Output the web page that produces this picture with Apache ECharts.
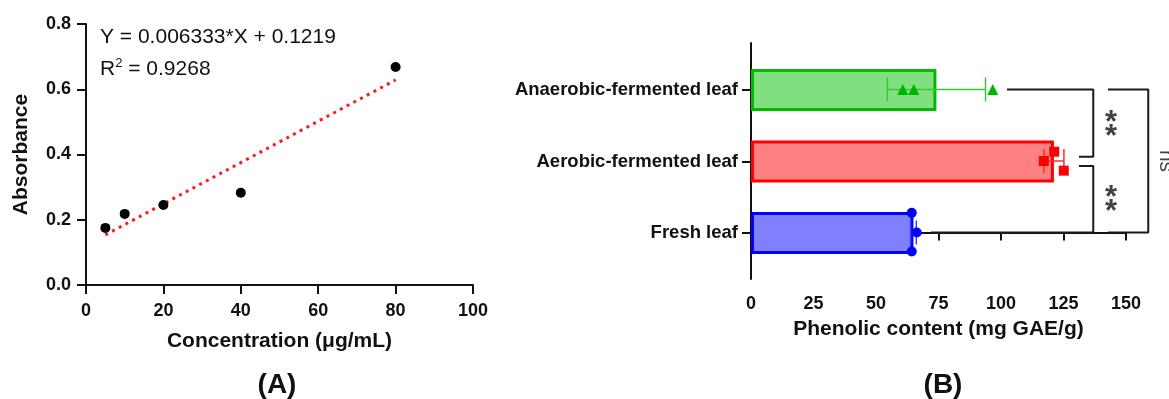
<!DOCTYPE html>
<html>
<head>
<meta charset="utf-8">
<script src="https://cdn.jsdelivr.net/npm/echarts@6/dist/echarts.min.js"></script>
<style>
html,body{margin:0;padding:0;background:#fff;}
#chart{width:1169px;height:399px;}
</style>
</head>
<body>
<div id="chart"></div>
<script>
// ---------- DATA ----------
// Panel A: standard curve
const concentration = [5, 10, 20, 40, 80];
const absorbance = [0.175, 0.218, 0.245, 0.283, 0.668];
const fitSlope = 0.006333;
const fitIntercept = 0.1219;
const fitR2 = 0.9268;
const xTicksA = [0, 20, 40, 60, 80, 100];
const yTicksA = [0, 0.2, 0.4, 0.6, 0.8];

// Panel B: phenolic content (replicates)
const categories = ['Fresh leaf', 'Aerobic-fermented leaf', 'Anaerobic-fermented leaf'];
const freshLeaf = [64.3, 66.3, 64.3];
const aerobicLeaf = [121.3, 117.1, 125.1];
const anaerobicLeaf = [60.7, 65.1, 96.7];
const xTicksB = [0, 25, 50, 75, 100, 125, 150];
const comparisons = [
  { a: 2, b: 1, label: '**' },
  { a: 1, b: 0, label: '**' },
  { a: 2, b: 0, label: 'ns' }
];

// ---------- STYLE / LAYOUT ----------
const FONT = 'Liberation Sans, Arial, Helvetica, sans-serif';
const TXT = '#111';
const groups = [freshLeaf, aerobicLeaf, anaerobicLeaf];
const fills = ['#8080ff', '#ff8080', '#80e080'];
const borders = ['#0000ff', '#ff0000', '#00bb00'];
const errColors = ['#3b3bff', '#ff2b2b', '#33cc33'];
const markerColors = ['#0000ff', '#ff0000', '#00b400'];
const markerShapes = ['circle', 'rect', 'triangle'];
const markerSizes = [10, 10, 11];
const jitter = [[0.275, 0, -0.265], [0.13, 0, -0.135], [0, 0, 0]];

const mean = a => a.reduce((s, v) => s + v, 0) / a.length;
const sd = a => { const m = mean(a); return Math.sqrt(a.reduce((s, v) => s + (v - m) * (v - m), 0) / (a.length - 1)); };

const barData = groups.map((g, i) => ({
  value: mean(g),
  itemStyle: { color: fills[i], borderColor: borders[i], borderWidth: 3 }
}));
const errData = groups.map((g, i) => [i, mean(g) - sd(g), mean(g) + sd(g)]);

const pointSeries = groups.map((g, i) => ({
  type: 'scatter', xAxisIndex: 2, yAxisIndex: 2, z: 5,
  symbol: markerShapes[i], symbolSize: markerSizes[i],
  itemStyle: { color: markerColors[i], opacity: 1 },
  data: g.map((v, k) => [v, i + jitter[i][k]])
}));

// significance brackets (data-space geometry; drawn on an annotation grid
// that shares panel B's scale but extends past the 150 tick)
const gap = 5.7;
const maxOf = i => Math.max(...groups[i]);
const br1 = [[maxOf(2) + gap, 2], [136.9, 2], [136.9, 1.06], [131.2, 1.06]];
const br2 = [[131.2, 0.93], [136.9, 0.93], [136.9, 0], [maxOf(0) + gap, 0]];
const br3 = [[142.8, 2], [158.9, 2], [158.9, 0], [142.8, 0]];
const brackets = [br1, br2, br3];
const sigLabelPos = [[144, 1.52], [144, 0.47], [166, 1.0]];

const bracketSeries = brackets.map(b => ({
  type: 'line', xAxisIndex: 3, yAxisIndex: 3, clip: false, symbol: 'none', z: 4,
  lineStyle: { color: '#1a1a1a', width: 2 }, data: b, silent: true
}));
const sigSeries = comparisons.map((c, i) => ({
  type: 'scatter', xAxisIndex: 3, yAxisIndex: 3, clip: false, symbolSize: 0, z: 6,
  data: [sigLabelPos[i]],
  label: c.label === 'ns'
    ? { show: true, position: 'inside', formatter: c.label, rotate: -90, fontSize: 21, fontFamily: FONT, color: TXT }
    : { show: true, position: 'inside', formatter: '*\n*', lineHeight: 14, fontSize: 31, fontWeight: 'bold', fontFamily: FONT, color: TXT, offset: [0, 7] }
}));

const axisLineStyle = { color: '#111', width: 2 };

const option = {
  animation: false,
  backgroundColor: '#fff',
  grid: [
    { left: 86, top: 24, width: 387, height: 261, outerBoundsMode: 'none' },
    { left: 751, top: 54.25, width: 375, height: 214.5, outerBoundsMode: 'none' },
    { left: 751, top: 43, width: 375, height: 236, outerBoundsMode: 'none' },
    { left: 751, top: 43, width: 415, height: 236, outerBoundsMode: 'none' }
  ],
  xAxis: [
    {
      gridIndex: 0, type: 'value', min: 0, max: 100, interval: 20,
      axisLine: { show: true, lineStyle: axisLineStyle },
      axisTick: { show: true, length: 9, lineStyle: { width: 2, color: '#111' } },
      axisLabel: { fontSize: 18, fontWeight: 'bold', color: TXT, fontFamily: FONT, margin: 17 },
      splitLine: { show: false },
      name: 'Concentration (μg/mL)', nameLocation: 'middle', nameGap: 46,
      nameTextStyle: { fontSize: 21, fontWeight: 'bold', color: TXT, fontFamily: FONT }
    },
    { gridIndex: 1, type: 'value', min: 0, max: 150, show: false },
    {
      gridIndex: 2, type: 'value', min: 0, max: 150, interval: 25,
      axisLine: { show: true, lineStyle: axisLineStyle },
      axisTick: { show: true, length: 8, lineStyle: { width: 2, color: '#111' } },
      axisLabel: { fontSize: 18, fontWeight: 'bold', color: TXT, fontFamily: FONT, margin: 16 },
      splitLine: { show: false },
      name: 'Phenolic content (mg GAE/g)', nameLocation: 'middle', nameGap: 40,
      nameTextStyle: { fontSize: 21, fontWeight: 'bold', color: TXT, fontFamily: FONT }
    },
    { gridIndex: 3, type: 'value', min: 0, max: 166, show: false }
  ],
  yAxis: [
    {
      gridIndex: 0, type: 'value', min: 0, max: 0.8, interval: 0.2,
      axisLine: { show: true, lineStyle: axisLineStyle },
      axisTick: { show: true, length: 9, lineStyle: { width: 2, color: '#111' } },
      axisLabel: { fontSize: 18, fontWeight: 'bold', color: TXT, fontFamily: FONT, margin: 15, formatter: v => v.toFixed(1) },
      splitLine: { show: false },
      name: 'Absorbance', nameLocation: 'middle', nameGap: 54,
      nameTextStyle: { fontSize: 21, fontWeight: 'bold', color: TXT, fontFamily: FONT }
    },
    {
      gridIndex: 1, type: 'category', data: categories,
      axisLine: { show: false },
      axisTick: { show: true, alignWithLabel: true, length: 9, lineStyle: { width: 2, color: '#111' } },
      axisLabel: { fontSize: 18.5, fontWeight: 'bold', color: TXT, fontFamily: FONT, margin: 13 },
      splitLine: { show: false }
    },
    {
      gridIndex: 2, type: 'value', min: -0.65, max: 2.65,
      axisLine: { show: true, lineStyle: axisLineStyle },
      axisTick: { show: false }, axisLabel: { show: false }, splitLine: { show: false }
    },
    { gridIndex: 3, type: 'value', min: -0.65, max: 2.65, show: false }
  ],
  series: [
    {
      type: 'line', xAxisIndex: 0, yAxisIndex: 0, symbol: 'none', z: 3,
      lineStyle: { color: '#ff1a1a', width: 3, type: [3, 4.6] },
      data: [[concentration[0], fitSlope * concentration[0] + fitIntercept],
             [concentration[concentration.length - 1], fitSlope * concentration[concentration.length - 1] + fitIntercept]]
    },
    {
      type: 'scatter', xAxisIndex: 0, yAxisIndex: 0, symbolSize: 10, z: 4,
      itemStyle: { color: '#000', opacity: 1 },
      data: concentration.map((c, i) => [c, absorbance[i]])
    },
    {
      type: 'bar', xAxisIndex: 1, yAxisIndex: 1, barWidth: 42, z: 2,
      data: barData
    },
    {
      type: 'custom', xAxisIndex: 2, yAxisIndex: 2, z: 3,
      encode: { x: [1, 2], y: 0 },
      data: errData,
      renderItem: function (params, api) {
        const y = api.value(0), lo = api.value(1), hi = api.value(2);
        const p1 = api.coord([lo, y]), p2 = api.coord([hi, y]);
        const h = 12;
        const st = { stroke: errColors[params.dataIndex], lineWidth: 1.5 };
        return {
          type: 'group', children: [
            { type: 'line', shape: { x1: p1[0], y1: p1[1], x2: p2[0], y2: p2[1] }, style: st },
            { type: 'line', shape: { x1: p1[0], y1: p1[1] - h, x2: p1[0], y2: p1[1] + h }, style: st },
            { type: 'line', shape: { x1: p2[0], y1: p2[1] - h, x2: p2[0], y2: p2[1] + h }, style: st }
          ]
        };
      }
    },
    ...pointSeries,
    ...bracketSeries,
    ...sigSeries
  ],
  graphic: [
    {
      type: 'text', x: 100, y: 37,
      style: { text: 'Y = ' + fitSlope + '*X + ' + fitIntercept, font: '21px ' + FONT, fill: TXT, textVerticalAlign: 'middle' }
    },
    {
      type: 'text', x: 100, y: 69,
      style: {
        text: '{a|R}{s|2}{a| = ' + fitR2 + '}', fill: TXT, textVerticalAlign: 'middle',
        rich: {
          a: { fontSize: 21, fontFamily: FONT, color: TXT, lineHeight: 24 },
          s: { fontSize: 13, fontFamily: FONT, color: TXT, verticalAlign: 'top', lineHeight: 24 }
        }
      }
    },
    {
      type: 'text', x: 277, y: 385,
      style: { text: '(A)', font: 'bold 28px ' + FONT, fill: TXT, textAlign: 'center', textVerticalAlign: 'middle' }
    },
    {
      type: 'text', x: 943, y: 385,
      style: { text: '(B)', font: 'bold 28px ' + FONT, fill: TXT, textAlign: 'center', textVerticalAlign: 'middle' }
    }
  ]
};

const chart = echarts.init(document.getElementById('chart'), null, { renderer: 'canvas' });
chart.setOption(option);
</script>
</body>
</html>
